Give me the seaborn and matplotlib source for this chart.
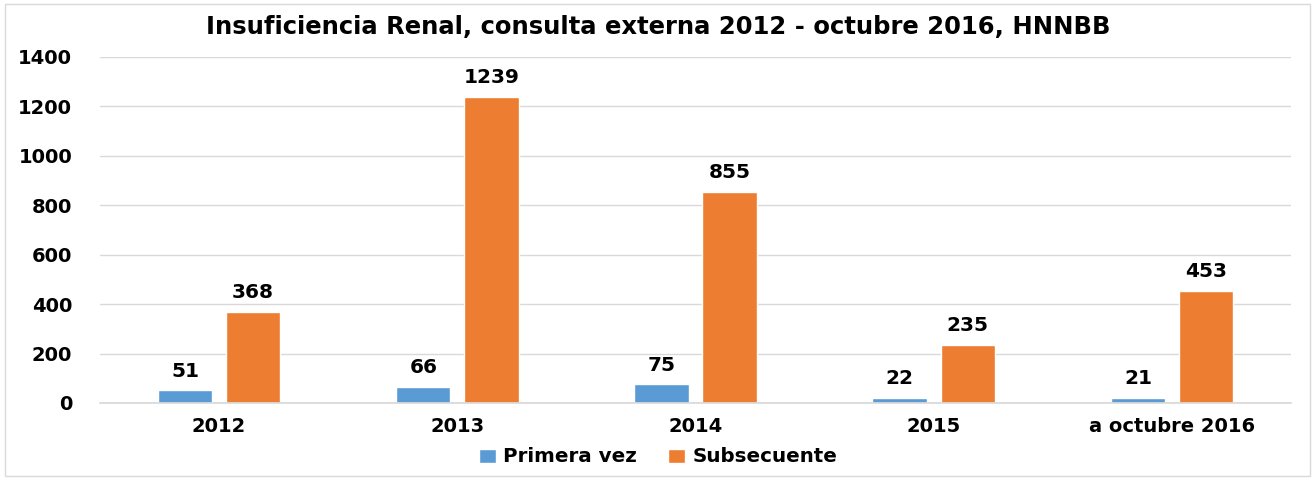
import matplotlib
matplotlib.use("Agg")
import matplotlib.pyplot as plt
import seaborn as sns
import pandas as pd
from matplotlib.patches import Rectangle, Patch

categories = ["2012", "2013", "2014", "2015", "a octubre 2016"]
primera_vez = [51, 66, 75, 22, 21]
subsecuente = [368, 1239, 855, 235, 453]
series_names = ["Primera vez", "Subsecuente"]
y_ticks = [0, 200, 400, 600, 800, 1000, 1200, 1400]
title = "Insuficiencia Renal, consulta externa 2012 - octubre 2016, HNNBB"

df = pd.DataFrame({
    "cat": categories * 2,
    "val": primera_vez + subsecuente,
    "serie": [series_names[0]] * len(categories) + [series_names[1]] * len(categories),
})

sns.set_theme(style="white")
plt.rcParams['font.family'] = ['DejaVu Sans']
plt.rcParams['text.color'] = 'black'

fig = plt.figure(figsize=(13.16, 4.79), dpi=100)
ax = fig.add_axes([100/1316, 1 - 403/479, 1191/1316, 346/479])

palette = {"Primera vez": "#5B9BD5", "Subsecuente": "#ED7D31"}
sns.barplot(data=df, x="cat", y="val", hue="serie", palette=palette, ax=ax,
            width=0.571, gap=0.2, order=categories, hue_order=series_names,
            saturation=1, legend=False)

ax.set_ylim(0, 1400)
ax.set_yticks(y_ticks)
ax.set_xlim(-0.5, len(categories) - 0.5)
ax.yaxis.grid(True, color="#D9D9D9", linewidth=1)
ax.set_axisbelow(True)
for s in ["top", "right", "left"]:
    ax.spines[s].set_visible(False)
ax.spines["bottom"].set_color("#D9D9D9")
ax.set_xlabel("")
ax.set_ylabel("")
ax.tick_params(axis="both", length=0, labelsize=14, labelcolor="black")
for lbl in ax.get_xticklabels() + ax.get_yticklabels():
    lbl.set_fontweight("bold")
ax.tick_params(axis="x", pad=10)
ax.tick_params(axis="y", pad=20)

for cont in ax.containers:
    ax.bar_label(cont, padding=7, fontsize=14.5, fontweight="bold", color="black")

fig.text(0.5, 1 - 27/479, title, ha="center", va="center", fontsize=17.5,
         fontweight="bold", color="black")

handles = [Patch(facecolor=palette[n], label=n) for n in series_names]
fig.legend(handles=handles, loc="center", bbox_to_anchor=(0.5, 1 - 457/479), ncol=2,
           frameon=False, prop={"weight": "bold", "size": 14.3},
           handlelength=0.85, handleheight=0.7, handletextpad=0.35, columnspacing=1.6,
           labelcolor="black")

fig.patches.append(Rectangle((5/1316, 3/479), 1305/1316, 472/479, transform=fig.transFigure,
                             fill=False, edgecolor="#D9D9D9", linewidth=1))

fig.savefig("out.png", dpi=100, facecolor="white")
